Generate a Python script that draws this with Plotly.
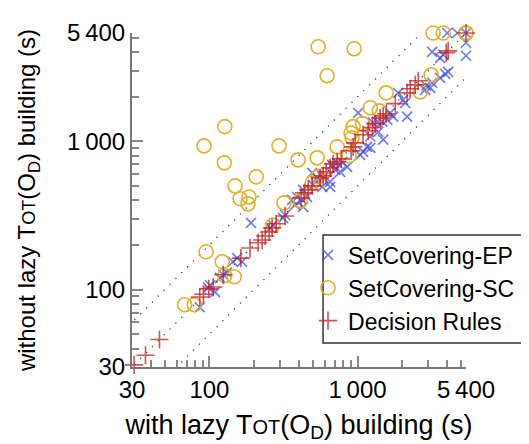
import math
import plotly.graph_objects as go

# ---- data (seconds) ----
ep_x = [5400, 4030, 4710, 3190, 3610, 3790, 5400, 5400, 4090, 3910, 3610, 3190, 3100, 2860, 2910,
        1880, 2030, 2100, 1660, 1740, 1590, 2160, 1360, 1470, 1270, 1010, 1380, 1490, 1220, 1160,
        1040, 1220, 1090, 787, 763, 673, 851, 706, 653, 577, 586, 494, 501, 429, 456, 422, 391,
        379, 324, 314, 269, 257, 191, 154, 166, 144, 124, 131, 118, 101, 109, 98, 86, 653, 728,
        534, 429, 362]
ep_y = [5400, 5400, 5400, 4030, 3670, 3850, 4640, 3790, 2950, 2860, 2690, 2490, 2300, 2230, 2380,
        2130, 1910, 1820, 1560, 1470, 1400, 1470, 1360, 1360, 1340, 1560, 1160, 1030, 1080, 919,
        811, 905, 851, 728, 623, 695, 673, 643, 534, 494, 568, 614, 509, 471, 422, 403, 422,
        373, 319, 305, 273, 261, 282, 163, 154, 154, 126, 130, 120, 107, 96, 103, 76, 494, 717,
        568, 362, 403]

sc_x = [3240, 3790, 5400, 5400, 5400, 542, 949, 623, 3140, 1560, 2650, 1220, 1400, 1080, 934, 905,
        919, 728, 878, 127, 92, 295, 126, 397, 534, 149, 207, 161, 185, 182, 319, 410, 494, 542,
        95, 122, 127, 147, 68, 79, 269]
sc_y = [5400, 5400, 5400, 5400, 5400, 4360, 4230, 2780, 2820, 2130, 2160, 1690, 1610, 1320, 1260, 1140,
        1060, 919, 800, 1260, 934, 934, 717, 751, 775, 501, 577, 410, 422, 379, 385, 397, 525, 577,
        180, 154, 124, 122, 79, 79, 273]

dr_x = [5400, 4090, 3970, 2570, 2450, 2270, 2160, 1800, 1490, 1560, 1420, 1320, 1260, 1180, 1090,
        964, 934, 905, 775, 728, 684, 653, 614, 586, 559, 494, 464, 436, 416, 324, 282, 265, 253,
        238, 227, 213, 188, 163, 124, 106, 99, 91, 86, 46, 37, 31]
dr_y = [5400, 4090, 3970, 2570, 2410, 2270, 2130, 1800, 1490, 1540, 1440, 1320, 1240, 1180, 1110,
        979, 919, 864, 763, 728, 706, 663, 623, 586, 568, 501, 471, 450, 416, 314, 278, 261, 245,
        230, 216, 207, 191, 163, 126, 104, 101, 93, 89, 46, 36, 31]

major_ticks = [30, 100, 1000, 5400]
major_labels = ["30", "100", "1\u2009000", "5\u2009400"]
minor_ticks = [40, 50, 60, 70, 80, 90, 200, 300, 400, 500, 600, 700, 800, 900, 2000, 3000, 4000, 5000]

ref_x = [15, 5400]
ref_ratios = [0.5, 1.0, 2.0]

FONT = "Liberation Sans, Arial, sans-serif"
AX_RANGE = [math.log10(30) - 1e-5, math.log10(5400) + 1e-5]

fig = go.Figure()

for r in ref_ratios:
    fig.add_trace(go.Scatter(x=ref_x, y=[v * r for v in ref_x], mode="lines",
                             line=dict(color="#444", width=1.3, dash="1.3px,7px"),
                             showlegend=False, hoverinfo="skip"))

fig.add_trace(go.Scatter(x=ep_x, y=ep_y, mode="markers", name="SetCovering-EP",
                         marker=dict(symbol="x-thin", size=10,
                                     line=dict(color="rgba(60,80,225,0.75)", width=1.6)),
                         cliponaxis=False))
fig.add_trace(go.Scatter(x=sc_x, y=sc_y, mode="markers", name="SetCovering-SC",
                         marker=dict(symbol="circle-open", size=14, color="#e3b12a",
                                     line=dict(color="#e3b12a", width=1.6)),
                         cliponaxis=False))
fig.add_trace(go.Scatter(x=dr_x, y=dr_y, mode="markers", name="Decision Rules",
                         marker=dict(symbol="cross-thin", size=13,
                                     line=dict(color="rgba(200,25,25,0.75)", width=1.6)),
                         cliponaxis=False))

axis_common = dict(
    type="log", range=AX_RANGE, showgrid=False, zeroline=False,
    showline=True, linecolor="#777", linewidth=2, mirror=False,
    tickmode="array", tickvals=major_ticks, ticktext=major_labels,
    ticks="inside", ticklen=11, tickwidth=1.5, tickcolor="#888",
    tickfont=dict(family=FONT, size=24, color="black"),
    minor=dict(tickvals=minor_ticks, ticks="inside", ticklen=7, tickwidth=1.5, tickcolor="#888"),
)

sc_x_html = "<span style='font-size:20px'>OT</span>"
sc_y_html = "<span style='font-size:18px'>OT</span>"
fig.update_layout(
    width=529, height=444,
    margin=dict(l=124, r=71, t=25, b=85, autoexpand=False),
    paper_bgcolor="white", plot_bgcolor="white",
    font=dict(family=FONT, size=24, color="black"),
    xaxis=dict(**axis_common,
               title=dict(text="with lazy T" + sc_x_html + "(O<sub>D</sub>) building (s)",
                          font=dict(family=FONT, size=27), standoff=13)),
    yaxis=dict(**axis_common,
               title=dict(text="without lazy T" + sc_y_html + "(O<sub>D</sub>) building (s)",
                          font=dict(family=FONT, size=24), standoff=25)),
    legend=dict(x=0.527, y=0.40, xanchor="left", yanchor="top",
                bgcolor="rgba(0,0,0,0)", borderwidth=0,
                font=dict(family=FONT, size=23, color="black"),
                itemwidth=30, tracegroupgap=0),
    shapes=[dict(type="rect", xref="paper", yref="paper", x0=0.572, x1=1.25, y0=0.072, y1=0.395,
                 line=dict(color="#333", width=1.5), fillcolor="rgba(0,0,0,0)", layer="above")],
)

fig.write_html("out.html")
